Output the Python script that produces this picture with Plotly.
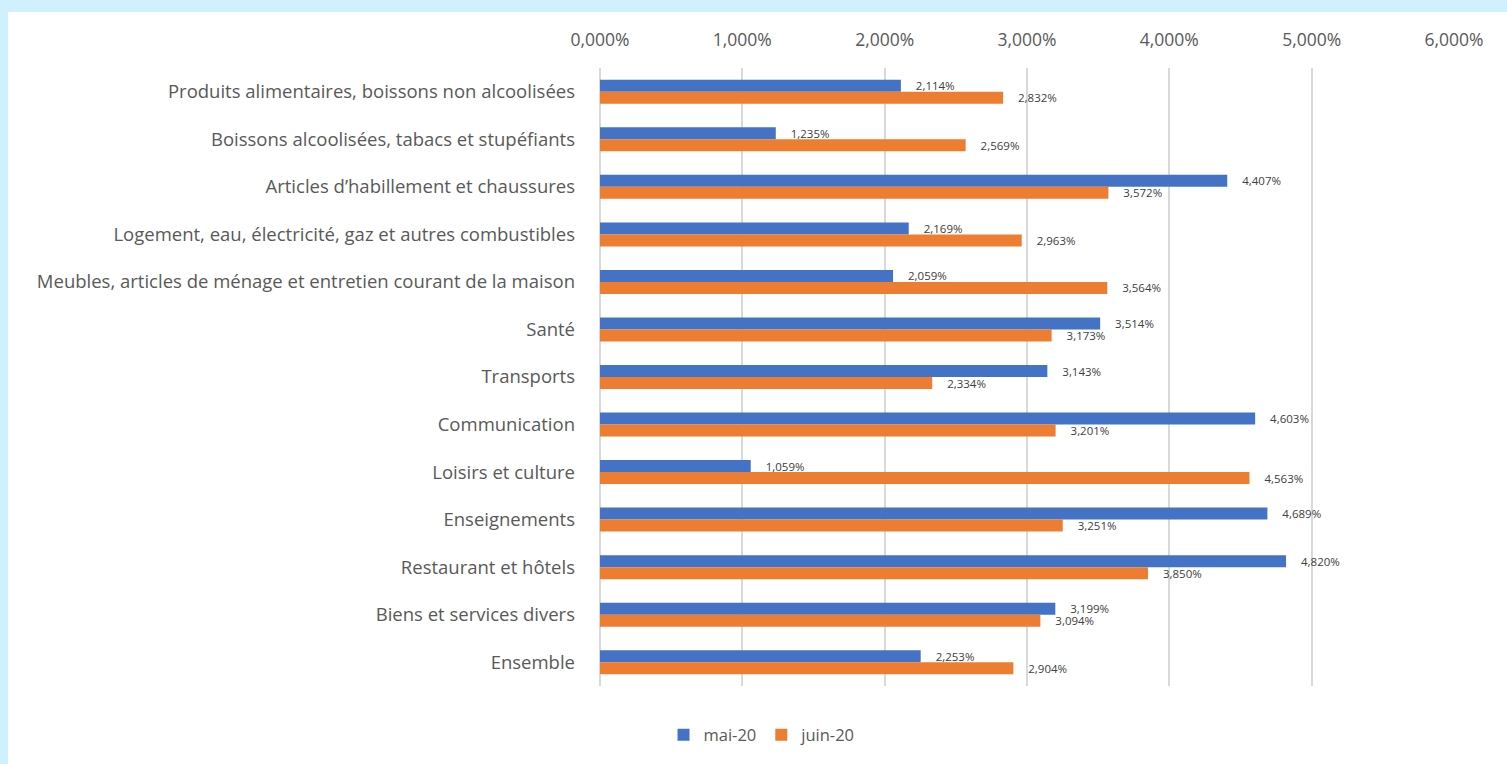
import plotly.graph_objects as go

categories = [
    "Produits alimentaires, boissons non alcoolisées",
    "Boissons alcoolisées, tabacs et stupéfiants",
    "Articles d’habillement et chaussures",
    "Logement, eau, électricité, gaz et autres combustibles",
    "Meubles, articles de ménage et entretien courant de la maison",
    "Santé",
    "Transports",
    "Communication",
    "Loisirs et culture",
    "Enseignements",
    "Restaurant et hôtels",
    "Biens et services divers",
    "Ensemble",
]
mai_20 = [2.114, 1.235, 4.407, 2.169, 2.059, 3.514, 3.143, 4.603, 1.059, 4.689, 4.820, 3.199, 2.253]
juin_20 = [2.832, 2.569, 3.572, 2.963, 3.564, 3.173, 2.334, 3.201, 4.563, 3.251, 3.850, 3.094, 2.904]
tick_values = [0, 1, 2, 3, 4, 5, 6]
tick_labels = ["0,000%", "1,000%", "2,000%", "3,000%", "4,000%", "5,000%", "6,000%"]

FONT = "Open Sans"
TEXT = "#595959"

fig = go.Figure()
for name, vals, color in [("mai-20", mai_20, "#4472C4"), ("juin-20", juin_20, "#ED7D31")]:
    fig.add_trace(go.Bar(
        name=name, y=categories, x=vals, orientation="h",
        marker=dict(color=color, line=dict(width=0)),
        texttemplate="\u00a0\u00a0\u00a0\u00a0%{x:.3f}%", textposition="outside",
        textfont=dict(family=FONT, size=11.5, color="#404040"),
        constraintext="none",
        cliponaxis=False,
    ))

W, H = 1507, 764
L, R, T, B = 600, 53, 68, 78
pw, ph = W - L - R, H - T - B

fig.update_layout(
    width=W, height=H,
    margin=dict(l=L, r=R, t=T, b=B),
    paper_bgcolor="#D0F0FD",
    plot_bgcolor="rgba(0,0,0,0)",
    separators=", ",
    barmode="group", bargap=0.495, bargroupgap=0,
    font=dict(family=FONT, color=TEXT, size=18),
    showlegend=True,
    legend=dict(orientation="h", x=(762 - L) / pw, xanchor="center",
                y=(H - B - 735) / ph, yanchor="middle", bgcolor="rgba(0,0,0,0)",
                font=dict(size=16.5, color=TEXT), traceorder="normal",
                itemwidth=30),
    shapes=[dict(type="rect", xref="paper", yref="paper",
                 x0=(8 - L) / pw, x1=1.2, y0=-0.3, y1=(H - B - 12) / ph,
                 fillcolor="white", line=dict(width=0), layer="below")],
    xaxis=dict(side="top", range=[0, 6], tickmode="array", tickvals=tick_values,
               ticktext=tick_labels, showgrid=True, gridcolor="#D9D9D9", gridwidth=2,
               zeroline=True, zerolinecolor="#D9D9D9", zerolinewidth=2,
               showline=False, ticks="", ticklabelstandoff=18,
               tickfont=dict(size=17.5, color=TEXT)),
    yaxis=dict(autorange="reversed", showgrid=False, showline=False, ticks="",
               ticklabelstandoff=24, tickfont=dict(size=18.5, color=TEXT)),
)

fig.write_html("out.html", config={"displayModeBar": False})
with open("out.html", encoding="utf-8") as f:
    html = f.read()
html = html.replace("<head>", "<head><style>html,body{margin:0;padding:0;}</style>", 1)
with open("out.html", "w", encoding="utf-8") as f:
    f.write(html)
